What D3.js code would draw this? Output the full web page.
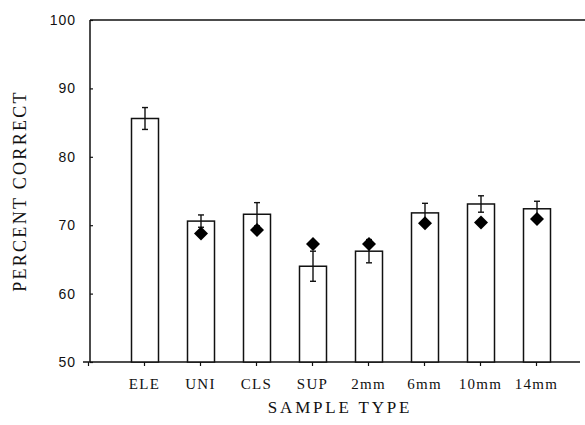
<!DOCTYPE html>
<html>
<head>
<meta charset="utf-8">
<script src="https://cdn.jsdelivr.net/npm/d3@7"></script>
<style>
  html, body { margin: 0; padding: 0; background: #fff; }
  svg { display: block; }
</style>
</head>
<body>
<svg id="chart" width="585" height="425"></svg>
<script>
// Percent correct by sample type: bar = mean, whisker = error, diamond = comparison score
const categories = ["ELE", "UNI", "CLS", "SUP", "2mm", "6mm", "10mm", "14mm"];
const means      = [85.6, 70.6, 71.6, 64.0, 66.2, 71.8, 73.1, 72.4];
const errors     = [1.6, 0.9, 1.7, 2.2, 1.7, 1.4, 1.2, 1.1];
const diamonds   = [null, 68.8, 69.3, 67.25, 67.25, 70.3, 70.4, 70.9];
const yTicks     = [50, 60, 70, 80, 90, 100];

const svg = d3.select("#chart");
const ink = "#111";

// category i sits at slot i + 1; slot 0 is the axis origin
const x = d3.scaleLinear().domain([0, 9]).range([88, 592]);
const y = d3.scaleLinear().domain([50, 100]).range([362, 20]);
const barW = 27;

// frame: left axis, top rule, bottom axis
svg.append("line").attr("x1", x(0) + 2).attr("x2", x(0) + 2)
  .attr("y1", y(100)).attr("y2", y(50))
  .attr("stroke", ink).attr("stroke-width", 1.5);
svg.append("line").attr("x1", x(0) + 2).attr("x2", 585)
  .attr("y1", y(100)).attr("y2", y(100))
  .attr("stroke", ink).attr("stroke-width", 1.5);
svg.append("line").attr("x1", 83).attr("x2", 580)
  .attr("y1", y(50)).attr("y2", y(50))
  .attr("stroke", ink).attr("stroke-width", 1.5);

// y axis labels and small inward ticks
const yAxis = d3.axisLeft(y).tickValues(yTicks).tickSize(-3).tickPadding(14);
const gy = svg.append("g").attr("transform", `translate(${x(0) + 2},0)`).call(yAxis);
gy.select(".domain").remove();
gy.selectAll(".tick line").attr("stroke", ink).attr("stroke-width", 1.2);
gy.selectAll(".tick text")
  .attr("fill", ink)
  .style("font-family", "'Liberation Sans', Arial, sans-serif")
  .style("font-size", "14px")
  .style("letter-spacing", "1px");

// x axis: ticks at origin and each category
const xAxis = d3.axisBottom(x)
  .tickValues(d3.range(0, 9))
  .tickSize(4)
  .tickPadding(12)
  .tickFormat(d => d === 0 ? "" : categories[d - 1]);
const gx = svg.append("g").attr("transform", `translate(0,${y(50)})`).call(xAxis);
gx.select(".domain").remove();
gx.selectAll(".tick line").attr("stroke", ink).attr("stroke-width", 1.2);
gx.selectAll(".tick text")
  .attr("fill", ink)
  .style("font-family", "'Liberation Serif', 'Times New Roman', serif")
  .style("font-size", "15px")
  .style("letter-spacing", "1.3px");

// bars
const slots = categories.map((c, i) => ({ c, i, m: means[i], e: errors[i], d: diamonds[i] }));
svg.append("g").selectAll("rect").data(slots).join("rect")
  .attr("x", d => x(d.i + 1) + 1 - barW / 2)
  .attr("y", d => y(d.m))
  .attr("width", barW)
  .attr("height", d => y(50) - y(d.m))
  .attr("fill", "#fff")
  .attr("stroke", ink)
  .attr("stroke-width", 1.5);

// error bars
const eg = svg.append("g").attr("stroke", ink).attr("stroke-width", 1.4);
slots.forEach(d => {
  const cx = x(d.i + 1) + 1;
  eg.append("line").attr("x1", cx).attr("x2", cx).attr("y1", y(d.m + d.e)).attr("y2", y(d.m - d.e));
  eg.append("line").attr("x1", cx - 3).attr("x2", cx + 3).attr("y1", y(d.m + d.e)).attr("y2", y(d.m + d.e));
  eg.append("line").attr("x1", cx - 3).attr("x2", cx + 3).attr("y1", y(d.m - d.e)).attr("y2", y(d.m - d.e));
});

// diamonds
const diamond = d3.symbol().type(d3.symbolSquare).size(98);
svg.append("g").selectAll("path").data(slots.filter(d => d.d !== null)).join("path")
  .attr("d", diamond)
  .attr("transform", d => `translate(${x(d.i + 1) + 1},${y(d.d)}) rotate(45)`)
  .attr("fill", "#000");

// axis titles
svg.append("text")
  .attr("transform", "translate(26,191) rotate(-90)")
  .attr("text-anchor", "middle")
  .attr("fill", ink)
  .style("font-family", "'Liberation Serif', 'Times New Roman', serif")
  .style("font-size", "18px")
  .style("letter-spacing", "2.3px")
  .text("PERCENT CORRECT");

svg.append("text")
  .attr("x", 340).attr("y", 413)
  .attr("text-anchor", "middle")
  .attr("fill", ink)
  .style("font-family", "'Liberation Serif', 'Times New Roman', serif")
  .style("font-size", "17px")
  .style("letter-spacing", "2.8px")
  .text("SAMPLE TYPE");
</script>
</body>
</html>
